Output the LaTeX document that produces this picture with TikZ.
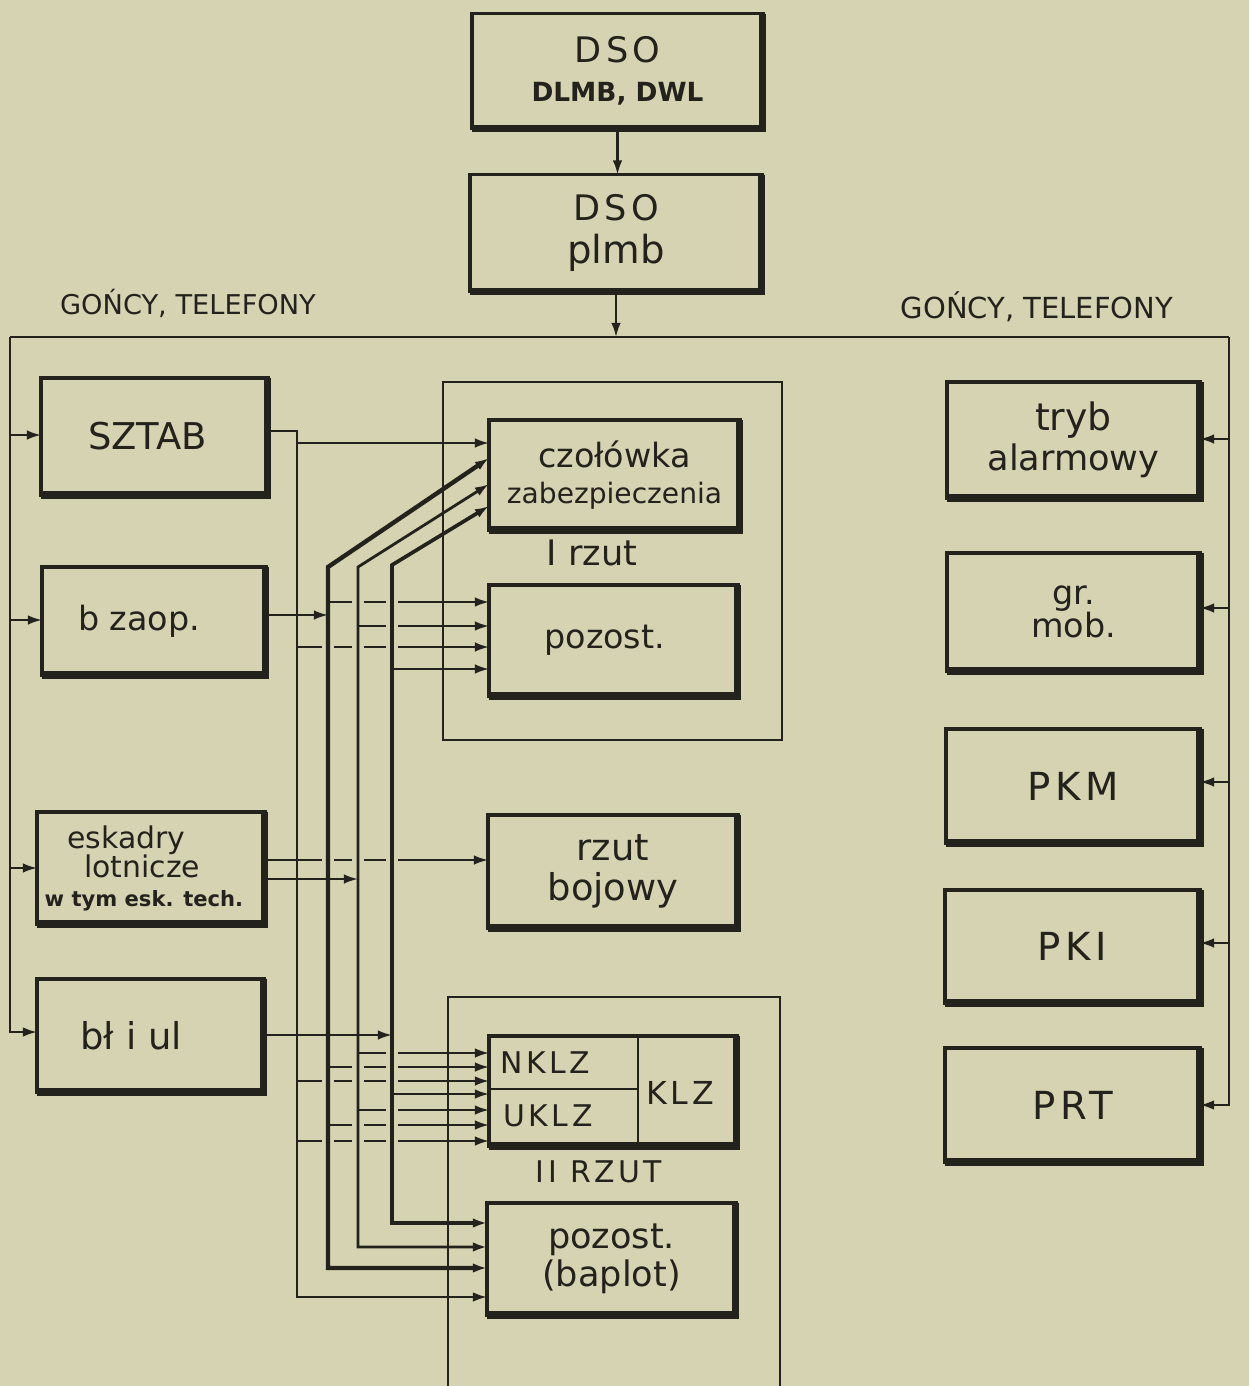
\documentclass[tikz,border=0pt]{standalone}
\usepackage{fontspec}
\setmainfont{DejaVu Sans}
\newfontfamily\spaced[LetterSpace=12]{DejaVu Sans}
\usetikzlibrary{arrows.meta}
\definecolor{paper}{RGB}{213,211,178}
\definecolor{ink}{RGB}{36,34,28}
\newcommand\fsz[2]{\fontsize{#1}{#2}\selectfont\lineskiplimit=-100pt\relax}
\newcommand\pad[1]{\hbox to #1{}}
\begin{document}
\begin{tikzpicture}[x=0.02cm,y=-0.02cm,
  mbox/.style={draw=ink,line width=2.2pt,outer sep=0pt,inner sep=1pt,align=center,text=ink},
  mheavy/.style={draw=ink,line width=4pt},
  mframe/.style={draw=ink,line width=1.1pt},
  mlbl/.style={text=ink,inner sep=0pt,align=center},
  mwire/.style={draw=ink,line width=1.2pt},
  busA/.style={draw=ink,line width=1.3pt},
  busB/.style={draw=ink,line width=2.5pt},
  busC/.style={draw=ink,line width=1.6pt},
  busD/.style={draw=ink,line width=2.1pt},
  marr/.style={-{Latex[length=8pt,width=5.4pt]}},
  marrs/.style={{Latex[length=8pt,width=5.4pt]}-{Latex[length=8pt,width=5.4pt]}},
]
\fill[paper] (0,0) rectangle (1249,1386);
\useasboundingbox (0,0) rectangle (1249,1386);

% ---------- group frames
\draw[mframe] (443,382) rectangle (782,740);
\draw[mframe] (448,1386) -- (448,997) -- (780,997) -- (780,1386);

% ---------- boxes
\node[mbox,minimum width=5.82cm,minimum height=2.30cm,font=\fsz{20}{22}] (dso1) at (617.5,71)
  {{\spaced DSO}\\{\fontsize{15}{22}\selectfont\bfseries DLMB, DWL}};
\node[mbox,minimum width=5.84cm,minimum height=2.34cm,font=\fsz{22}{24}] (dso2) at (616,233)
  {{\fontsize{20}{24}\selectfont\spaced DSO}\\plmb};

\node[mbox,minimum width=4.54cm,minimum height=2.34cm,font=\fsz{21}{24}] (sztab) at (154.5,436.5)
  {SZTAB\pad{8pt}};
\node[mbox,minimum width=4.48cm,minimum height=2.16cm,font=\fsz{19}{22}] (bzaop) at (154,621)
  {b zaop.\pad{17pt}};
\node[mbox,minimum width=4.56cm,minimum height=2.24cm,font=\fsz{17}{16.5}] (eskadry) at (151,868)
  {eskadry\pad{28pt}\\lotnicze\pad{10pt}\\{\fontsize{12}{16.5}\selectfont\bfseries w tym esk. tech.\pad{8pt}}};
\node[mbox,minimum width=4.54cm,minimum height=2.26cm,font=\fsz{21}{24}] (btiul) at (150.5,1035.5)
  {bł i ul\pad{22pt}};

\node[mbox,minimum width=5.06cm,minimum height=2.32cm,font=\fsz{20}{22.5}] (tryb) at (1073.5,440)
  {{\fontsize{21.5}{22.5}\selectfont tryb}\\alarmowy};
\node[mbox,minimum width=5.06cm,minimum height=2.36cm,font=\fsz{19}{19}] (grmob) at (1073.5,612)
  {gr.\\mob.};
\node[mbox,minimum width=5.08cm,minimum height=2.28cm,font=\fsz{22}{24}] (pkm) at (1073,786)
  {\spaced PKM};
\node[mbox,minimum width=5.10cm,minimum height=2.26cm,font=\fsz{22}{24}] (pki) at (1072.5,946.5)
  {\spaced PKI};
\node[mbox,minimum width=5.10cm,minimum height=2.28cm,font=\fsz{22}{24}] (prt) at (1072.5,1105)
  {\spaced PRT};

\node[mbox,minimum width=5.02cm,minimum height=2.20cm,font=\fsz{19}{20}] (czol) at (614.5,475)
  {czołówka\\{\fontsize{16}{20}\selectfont zabezpieczenia}};
\node[mbox,minimum width=4.98cm,minimum height=2.22cm,font=\fsz{19}{22}] (poz1) at (613.5,640.5)
  {pozost.\pad{10pt}};
\node[mbox,minimum width=5.00cm,minimum height=2.26cm,font=\fsz{21}{22.5}] (rboj) at (613,871.5)
  {rzut\\bojowy};
\node[mbox,minimum width=4.96cm,minimum height=2.20cm] (klz) at (613,1091) {};
\node[mbox,minimum width=4.98cm,minimum height=2.24cm,font=\fsz{20}{21.5}] (baplot) at (611.5,1259)
  {pozost.\\(baplot)};

\foreach \n in {dso1,dso2,sztab,bzaop,eskadry,btiul,tryb,grmob,pkm,pki,prt,czol,poz1,rboj,klz,baplot}
  \draw[mheavy] (\n.north east) -- (\n.south east) -- (\n.south west);

% KLZ inner division
\coordinate (kdiv) at (638,1089);
\draw[mframe,line width=1.4pt] (kdiv |- klz.north) -- (kdiv |- klz.south);
\draw[mframe,line width=1.4pt] (kdiv -| klz.west) -- (kdiv);
\node[mlbl,font=\fsz{17}{20}] (nklz) at (545,1063) {\spaced NKLZ};
\node[mlbl,font=\fsz{17}{20}] (uklz) at (548,1116) {\spaced UKLZ};
\node[mlbl,font=\fsz{18}{20}] (klzt) at (680,1093) {\spaced KLZ};

% labels
\node[mlbl,font=\fsz{15.5}{18}] (gl) at (188,303) {GOŃCY, TELEFONY};
\node[mlbl,font=\fsz{16.5}{18}] (gr) at (1037,307) {GOŃCY, TELEFONY};
\node[mlbl,font=\fsz{20}{22}] (r1) at (592,553) {I rzut};
\node[mlbl,font=\fsz{17}{20}] (r2) at (599,1172) {\spaced II RZUT};

% ---------- top distribution bus
\coordinate (TL) at (10,337);
\coordinate (TR) at (1229,337);
\coordinate (BL) at (10,1032);
\coordinate (BR) at (1229,1105);
\draw[mwire,marr] (dso1.south) -- (dso1.south |- dso2.north);
\draw[mwire,marr] (dso2.south) -- (dso2.south |- TL);
\draw[busA] (TL) -- (TR);
\draw[busA,marr] (TL) -- (BL) -- (BL -| btiul.west);
\draw[busA,marr] (TR) -- (BR) -- (BR -| prt.east);
\foreach \y/\n in {435/sztab,620/bzaop,868/eskadry}
  \draw[mwire,marr] (10,\y) -- (\n.west |- 0,\y);
\foreach \y/\n in {439/tryb,608/grmob,782/pkm,943/pki}
  \draw[mwire,marr] (1229,\y) -- (\n.east |- 0,\y);

% ---------- internal buses: coordinates
\coordinate (A0) at (297,431); \coordinate (A1) at (297,443);
\coordinate (A2) at (297,647); \coordinate (A3) at (297,1081);
\coordinate (A4) at (297,1141); \coordinate (A5) at (297,1297);
\coordinate (Bin) at (328,615); \coordinate (Btop) at (328,567);
\coordinate (Bd) at (328,458); \coordinate (B1) at (328,602);
\coordinate (B2) at (328,1067); \coordinate (B3) at (328,1125);
\coordinate (B5) at (328,1268);
\coordinate (Cin) at (358,879); \coordinate (Ctop) at (358,567);
\coordinate (Cd) at (358,484); \coordinate (C1) at (358,626);
\coordinate (C2) at (358,1053); \coordinate (C3) at (358,1110);
\coordinate (C5) at (358,1247);
\coordinate (Din) at (392,1035); \coordinate (Dtop) at (392,565);
\coordinate (Dd) at (392,506); \coordinate (D1) at (392,669);
\coordinate (D2) at (392,1094); \coordinate (D5) at (392,1223);
\coordinate (E1) at (300,860);

% feeds into buses
\draw[mwire,marr] (Bin -| bzaop.east) -- (Bin);
\draw[mwire,marr] (Cin -| eskadry.east) -- (Cin);
\draw[mwire,marr] (Din -| btiul.east) -- (Din);
\draw[mwire,marr] (E1 -| eskadry.east) -- (E1 -| rboj.west);

% branches
\draw[mwire,marr] (A1) -- (A1 -| czol.west);
\foreach \p in {A2,B1,C1,D1} \draw[mwire,marr] (\p) -- (\p -| poz1.west);
\foreach \p in {A3,A4,B2,B3,C2,C3,D2} \draw[mwire,marr] (\p) -- (\p -| klz.west);

% gaps where branches hop over buses
\foreach \x/\y in {358/602,392/602,392/626,328/647,358/647,392/647,
  328/860,358/860,392/860,392/1053,358/1067,392/1067,328/1081,358/1081,392/1081,
  392/1110,358/1125,392/1125,328/1141,358/1141,392/1141}
  \fill[paper] ({\x-6},{\y-3}) rectangle ({\x+6},{\y+3});

% buses
\draw[busA,marr] (A0 -| sztab.east) -- (A0) -- (A5) -- (A5 -| baplot.west);
\draw[busB,marrs] (Bd -| czol.west) -- (Btop) -- (B5) -- (B5 -| baplot.west);
\draw[busC,marrs] (Cd -| czol.west) -- (Ctop) -- (C5) -- (C5 -| baplot.west);
\draw[busD,marrs] (Dd -| czol.west) -- (Dtop) -- (D5) -- (D5 -| baplot.west);
\end{tikzpicture}
\end{document}
